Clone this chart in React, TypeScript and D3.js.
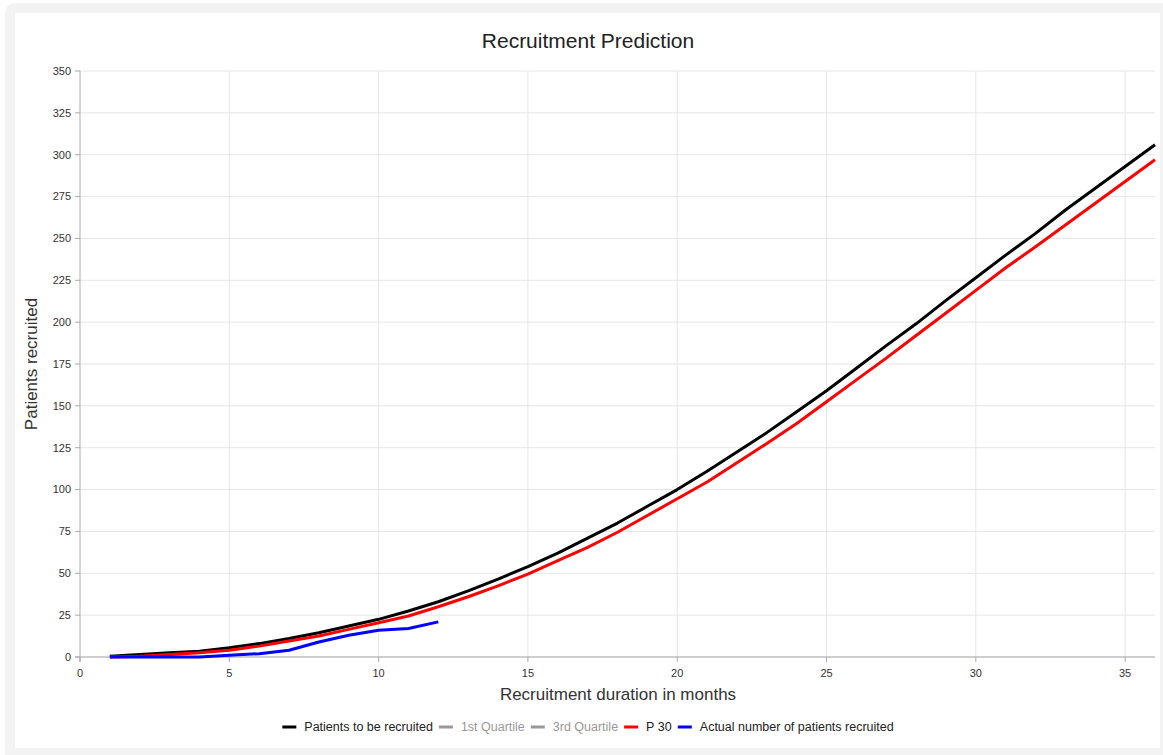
import React from "react";
import * as d3 from "d3";

const months: number[] = Array.from({ length: 36 }, (_, i) => i + 1);
const patientsToBeRecruited: number[] = [
  0.5, 1.5, 2.5, 3.5, 5.5, 8, 11, 14.5, 18.5, 22.5, 27.5, 33, 39.5, 46.5, 54, 62, 71, 80,
  90, 100, 111, 122.5, 134, 146.5, 159, 172.5, 186, 199, 213, 226.5, 240, 253, 267, 280, 293, 306,
];
const p30: number[] = [
  0, 0.5, 1.5, 2.5, 4, 6.5, 9.5, 12.5, 16.5, 20.5, 24.5, 30, 36, 42.5, 49.5, 57.5, 65.5, 74.5,
  84.5, 94.5, 104.5, 116, 127.5, 139.5, 152.5, 165.5, 178.5, 192, 205.5, 219, 232.5, 245, 258, 271, 284, 297,
];
const actualMonths: number[] = [1, 2, 3, 4, 5, 6, 7, 8, 9, 10, 11, 12];
const actualRecruited: number[] = [0, 0, 0, 0, 1, 2, 4, 9, 13, 16, 17, 21];

const xTicks: number[] = [0, 5, 10, 15, 20, 25, 30, 35];
const yTicks: number[] = [0, 25, 50, 75, 100, 125, 150, 175, 200, 225, 250, 275, 300, 325, 350];

const legendItems = [
  { label: "Patients to be recruited", color: "#000000", hidden: false },
  { label: "1st Quartile", color: "#999999", hidden: true },
  { label: "3rd Quartile", color: "#999999", hidden: true },
  { label: "P 30", color: "#ff0000", hidden: false },
  { label: "Actual number of patients recruited", color: "#0000ff", hidden: false },
];

const FONT = "'Liberation Sans', Arial, Helvetica, sans-serif";

function measure(text: string, font: string): number {
  if (typeof document === "undefined") return text.length * 6;
  const c = document.createElement("canvas");
  const ctx = c.getContext("2d");
  if (!ctx) return text.length * 6;
  ctx.font = font;
  return ctx.measureText(text).width;
}

export default function App() {
  const W = 1163;
  const H = 755;
  const x = d3.scaleLinear().domain([0, 36]).range([80, 1155]);
  const y = d3.scaleLinear().domain([0, 350]).range([657, 71]);

  const line = d3
    .line<[number, number]>()
    .x((d) => x(d[0]))
    .y((d) => y(d[1]));

  const blackPath = line(months.map((m, i) => [m, patientsToBeRecruited[i]]) as [number, number][]);
  const redPath = line(months.map((m, i) => [m, p30[i]]) as [number, number][]);
  const bluePath = line(actualMonths.map((m, i) => [m, actualRecruited[i]]) as [number, number][]);

  // legend layout
  const legSize = 12.5;
  const legFont = `${legSize}px ${FONT}`;
  const sym = 14;
  const gapText = 8;
  const gapItem = 6;
  const widths = legendItems.map((it) => measure(it.label, legFont));
  const total = widths.reduce((a, w) => a + sym + gapText + w, 0) + gapItem * (legendItems.length - 1);
  let cx = 588 - total / 2;
  const legendPos = legendItems.map((it, i) => {
    const p = cx;
    cx += sym + gapText + widths[i] + gapItem;
    return p;
  });

  return (
    <div style={{ position: "absolute", left: 0, top: 0, width: W, height: H }}>
      <svg width={W} height={H} style={{ display: "block", fontFamily: FONT }}>
        <rect x={0} y={0} width={W} height={H} fill="#ffffff" />
        <rect x={5} y={3} width={W + 10} height={H + 10} rx={10} fill="#f3f3f3" />
        <rect x={15} y={13} width={1145} height={735} fill="#ffffff" />

        <text x={588} y={48} textAnchor="middle" fontSize={21} fill="#222">
          Recruitment Prediction
        </text>

        {/* grid */}
        {yTicks.map((t) => (
          <line key={"gy" + t} x1={80} x2={1155} y1={y(t)} y2={y(t)} stroke="#e6e6e6" strokeWidth={1} />
        ))}
        {xTicks.filter((t) => t > 0).map((t) => (
          <line key={"gx" + t} x1={x(t)} x2={x(t)} y1={71} y2={657} stroke="#e6e6e6" strokeWidth={1} />
        ))}

        {/* axes */}
        <line x1={80} x2={80} y1={71} y2={662} stroke="#aaaaaa" strokeWidth={1} />
        <line x1={75} x2={1155} y1={657} y2={657} stroke="#aaaaaa" strokeWidth={1} />
        {yTicks.map((t) => (
          <g key={"ty" + t}>
            <line x1={75} x2={80} y1={y(t)} y2={y(t)} stroke="#aaaaaa" />
            <text x={71} y={y(t)} dy="0.35em" textAnchor="end" fontSize={11} fill="#333">
              {t}
            </text>
          </g>
        ))}
        {xTicks.map((t) => (
          <g key={"tx" + t}>
            <line x1={x(t)} x2={x(t)} y1={657} y2={662} stroke="#aaaaaa" />
            <text x={x(t)} y={677} textAnchor="middle" fontSize={11} fill="#333">
              {t}
            </text>
          </g>
        ))}

        <text x={618} y={700} textAnchor="middle" fontSize={17} fill="#333">
          Recruitment duration in months
        </text>
        <text
          transform={`translate(37,364) rotate(-90)`}
          textAnchor="middle"
          fontSize={17}
          fill="#333"
        >
          Patients recruited
        </text>

        {/* series */}
        <path d={blackPath || ""} fill="none" stroke="#000000" strokeWidth={3} strokeLinejoin="round" />
        <path d={redPath || ""} fill="none" stroke="#ff0000" strokeWidth={3} strokeLinejoin="round" />
        <path d={bluePath || ""} fill="none" stroke="#0000ff" strokeWidth={3} strokeLinejoin="round" />

        {/* legend */}
        {legendItems.map((it, i) => (
          <g key={"lg" + i}>
            <line
              x1={legendPos[i]}
              x2={legendPos[i] + sym}
              y1={727}
              y2={727}
              stroke={it.color}
              strokeWidth={3}
            />
            <text
              x={legendPos[i] + sym + gapText}
              y={727}
              dy="0.35em"
              fontSize={legSize}
              fill={it.hidden ? "#999999" : "#222"}
            >
              {it.label}
            </text>
          </g>
        ))}
      </svg>
    </div>
  );
}
